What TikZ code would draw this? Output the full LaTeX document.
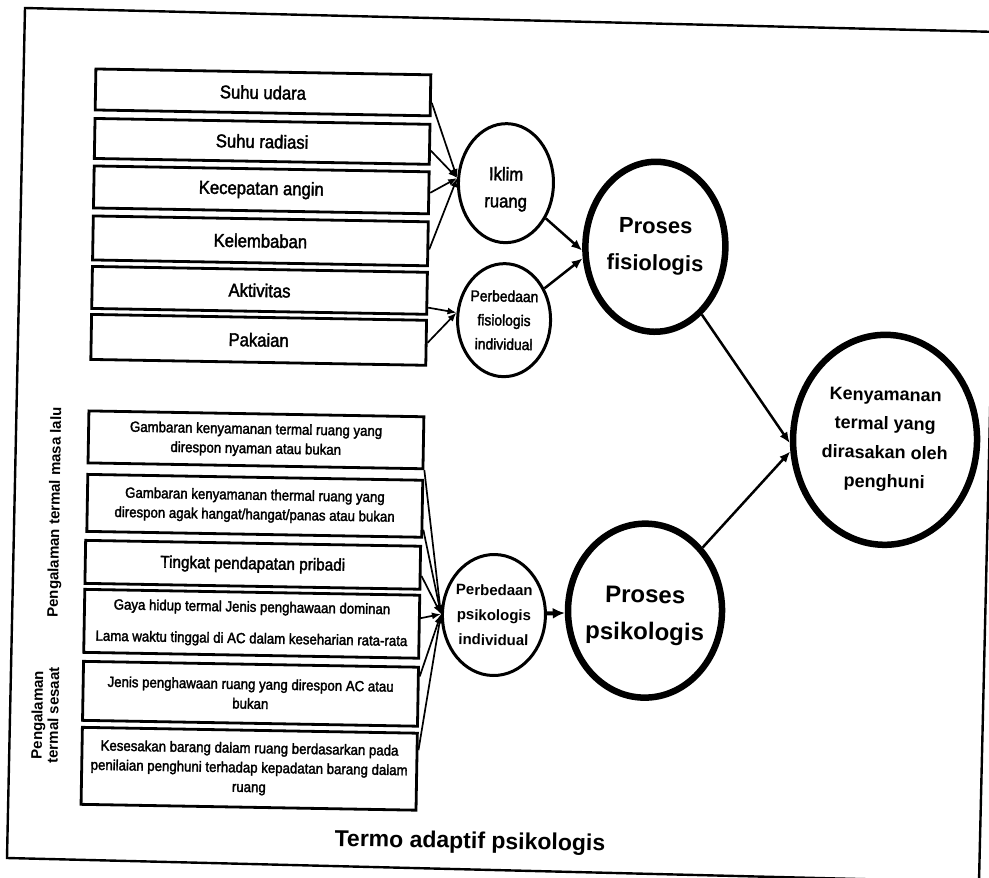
\documentclass[tikz,border=0pt]{standalone}
\usepackage{fontspec}
\setmainfont{Liberation Sans}
\newfontfamily\semibf[FakeBold=2,FakeStretch=0.9]{Liberation Sans}
\usetikzlibrary{shapes.geometric,arrows.meta,calc}

\begin{document}
\begin{tikzpicture}[x=1pt,y=-1pt,
  box/.style={draw,line width=2.8pt,minimum width=335pt,inner sep=0pt,align=center},
  topbox/.style={box,font=\semibf\fontsize{18.5}{21}\selectfont},
  lowbox/.style={box,font=\semibf\fontsize{14.7}{19.5}\selectfont},
  smallell/.style={ellipse,draw,line width=3pt,inner sep=0pt},
  bigell/.style={ellipse,draw,line width=6.5pt,inner sep=0pt},
  lbl/.style={align=center,inner sep=0pt},
  feed/.style={line width=1.7pt,-{Latex[length=9pt,width=7pt]}},
  flow/.style={line width=2.5pt,-{Latex[length=11pt,width=9pt]}},
  heavy/.style={line width=4pt,-{Latex[length=12pt,width=11pt]}},
  side/.style={rotate=90,align=center,inner sep=0pt,font=\bfseries\fontsize{15}{16}\selectfont},
]
\useasboundingbox (0,0) rectangle (989,878);
\fill[white] (0,0) rectangle (989,878);

% outer frame
\draw[line width=2.4pt] (25,8) -- (999,32) -- (979,882) -- (7,858) -- cycle;

\begin{scope}[rotate around={-1:(495,439)},transform shape]
% climate and personal factors
\node[topbox,minimum height=41pt] (b1) at (257,96.5) {Suhu udara};
\node[topbox,minimum height=40pt] (b2) at (257,145.5) {Suhu radiasi};
\node[topbox,minimum height=42pt] (b3) at (257,194) {Kecepatan angin};
\node[topbox,minimum height=44pt] (b4) at (257,245) {Kelembaban};
\node[topbox,minimum height=42pt] (b5) at (257,294.5) {Aktivitas};
\node[topbox,minimum height=45pt] (b6) at (257,344) {Pakaian};

% psychological factors
\node[lowbox,minimum height=52pt] (c1) at (256,444) {Gambaran kenyamanan termal ruang yang\\direspon nyaman atau bukan};
\node[lowbox,minimum height=57pt] (c2) at (256,510) {Gambaran kenyamanan thermal ruang yang\\direspon agak hangat/hangat/panas atau bukan};
\node[box,minimum height=43pt,font=\semibf\fontsize{17}{19}\selectfont] (c3) at (255,569) {Tingkat pendapatan pribadi};
\node[lowbox,minimum height=63pt] (c4) at (255,628) {Gaya hidup termal Jenis penghawaan dominan\\[12pt]Lama waktu tinggal di AC dalam keseharian rata-rata};
\node[lowbox,minimum height=59pt] (c5) at (255,698) {Jenis penghawaan ruang yang direspon AC atau\\bukan};
\node[lowbox,minimum height=77pt] (c6) at (255,773) {Kesesakan barang dalam ruang berdasarkan pada\\penilaian penghuni terhadap kepadatan barang dalam\\ruang};

% side captions
\node[side] (lm) at (57,520) {Pengalaman termal masa lalu};
\node[side] (ls) at (50,723) {Pengalaman\\termal sesaat};

% intermediate ellipses
\node[smallell,minimum width=95pt,minimum height=119pt,
  label={[lbl,font=\semibf\fontsize{18.5}{27}\selectfont,yshift=-6pt]center:{Iklim\\ruang}}] (ik) at (501.5,183) {};
\node[smallell,minimum width=93pt,minimum height=113pt,
  label={[lbl,font=\semibf\fontsize{15.4}{24}\selectfont]center:{Perbedaan\\fisiologis\\individual}}] (pf) at (502,320) {};
\node[smallell,minimum width=103pt,minimum height=121pt,
  label={[lbl,font=\bfseries\fontsize{15}{25}\selectfont]center:{Perbedaan\\psikologis\\individual}}] (ps) at (497,615) {};

% processes and outcome
\node[bigell,minimum width=140pt,minimum height=170pt,
  label={[lbl,font=\bfseries\fontsize{22}{37}\selectfont]center:{Proses\\fisiologis}}] (pfs) at (652,244) {};
\node[bigell,minimum width=154pt,minimum height=174pt,
  label={[lbl,font=\bfseries\fontsize{24}{37}\selectfont,yshift=-5pt]center:{Proses\\psikologis}}] (pp) at (648,608) {};
\node[bigell,minimum width=184pt,minimum height=210pt,
  label={[lbl,font=\bfseries\fontsize{18}{29}\selectfont]center:{Kenyamanan\\termal yang\\dirasakan oleh\\penghuni}}] (k) at (885,433) {};

% title
\node[font=\bfseries\fontsize{23}{26}\selectfont] (title) at (477,843) {Termo adaptif psikologis};

% factor connectors
\draw[feed] ($(b1.north east)!0.67!(b1.south east)$) -- (ik.175);
\draw[feed] ($(b2.north east)!0.65!(b2.south east)$) -- (ik.175);
\draw[feed] ($(b3.north east)!0.5!(b3.south east)$) -- (ik.175);
\draw[feed] ($(b4.north east)!0.62!(b4.south east)$) -- (ik.175);
\draw[feed] ($(b5.north east)!0.82!(b5.south east)$) -- (pf.172);
\draw[feed] ($(b6.north east)!0.5!(b6.south east)$) -- (pf.172);

\draw[feed] (c1.south east) -- (ps.180);
\draw[feed] ($(c2.north east)!0.85!(c2.south east)$) -- (ps.180);
\draw[feed] ($(c3.north east)!0.68!(c3.south east)$) -- (ps.180);
\draw[feed] ($(c4.north east)!0.37!(c4.south east)$) -- (ps.180);
\draw[feed] ($(c5.north east)!0.17!(c5.south east)$) -- (ps.180);
\draw[feed] ($(c6.north east)!0.23!(c6.south east)$) -- (ps.180);

% process connectors
\draw[flow] (ik) -- (pfs.184);
\draw[flow] (pf) -- (pfs.190);
\draw[heavy] (ps) -- (pp);
\draw[flow] (pfs) -- (k.183);
\draw[flow] (pp) -- (k.188);
\end{scope}
\end{tikzpicture}
\end{document}
